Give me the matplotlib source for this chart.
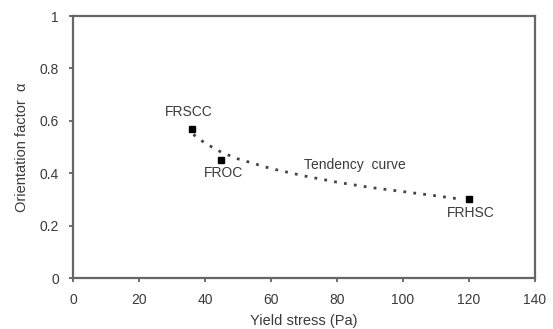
import matplotlib
matplotlib.use("Agg")
import matplotlib.pyplot as plt

# measured points
stress = [36, 45, 120]
alpha = [0.57, 0.45, 0.30]
names = ["FRSCC", "FROC", "FRHSC"]
name_xy = [(35, 0.635), (45.5, 0.40), (120.5, 0.248)]

# tendency curve
curve_x = [36.5, 40, 45, 50, 60, 70, 80, 90, 100, 110, 117]
curve_y = [0.548, 0.515, 0.48, 0.455, 0.418, 0.39, 0.366, 0.346, 0.330, 0.314, 0.302]

txt = "#3a3a3a"
plt.rcParams["font.family"] = ["Liberation Sans", "DejaVu Sans"]

fig = plt.figure(figsize=(5.53, 3.29), dpi=100)
ax = fig.add_axes([0.132, 0.155, 0.835, 0.796])

ax.plot(curve_x, curve_y, linestyle=(0, (1, 2.6)), color="#444444", lw=2)
ax.plot(stress, alpha, "s", color="black", ms=5)

for n, (tx, ty) in zip(names, name_xy):
    ax.text(tx, ty, n, ha="center", va="center", fontsize=10, color=txt)
ax.text(70, 0.43, "Tendency  curve", ha="left", va="center", fontsize=10, color=txt)

ax.set_xlim(0, 140)
ax.set_ylim(0, 1)
ax.set_xticks(range(0, 141, 20))
ax.set_yticks([0, 0.2, 0.4, 0.6, 0.8, 1])
ax.set_yticklabels(["0", "0.2", "0.4", "0.6", "0.8", "1"])
ax.tick_params(direction="out", length=3, width=1.2, colors="#555555",
               labelcolor=txt, labelsize=10)
ax.tick_params(axis="x", pad=8)
ax.tick_params(axis="y", pad=7)
for s in ax.spines.values():
    s.set_color("#666666")
    s.set_linewidth(1.6)

ax.set_xlabel("Yield stress (Pa)", fontsize=10.5, color=txt, labelpad=5)
ax.set_ylabel("Orientation factor  \u03b1", fontsize=10.5, color=txt, labelpad=8)

fig.savefig("out.png", dpi=100)
